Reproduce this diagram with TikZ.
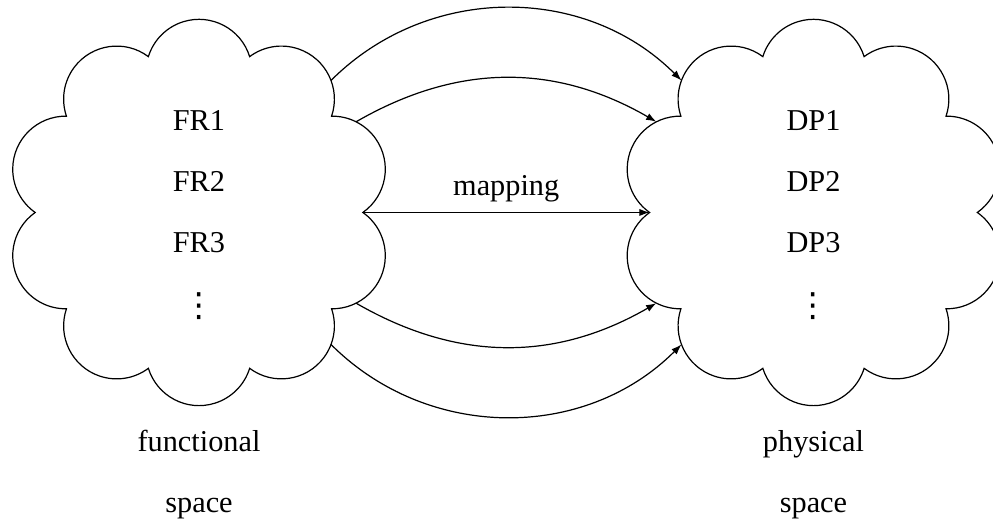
\documentclass[tikz,border=0pt]{standalone}
\usepackage{fontspec}
\setmainfont{Liberation Serif}
\newfontfamily\symbolfont{DejaVu Sans}
\usetikzlibrary{arrows.meta}
\begin{document}
\begin{tikzpicture}[
  font=\fontsize{10}{12}\selectfont,
  item/.style={anchor=base, inner sep=0pt},
  vdotsitem/.style={anchor=base, inner sep=0pt, font=\symbolfont\fontsize{11}{12}\selectfont},
  link/.style={-{Latex[length=3.4pt,width=2.4pt]}},
  % ten puffs of radius 17.5pt, centred on a circle of radius 46.248pt;
  % neighbouring puffs meet on a circle of radius 54.085pt
  pics/spacecloud/.style={code={
    \draw (0:54.085pt)
      \foreach \k in {0,...,9}{ arc[start angle={-54.75+36*\k}, delta angle=145.5, radius=17.5pt] }
      -- cycle;
    \coordinate (-c) at (0,0);
    % points on the outline where the arrows start or end
    \foreach \a/\d in {0/54.085, 30/59.86, 45/61.61, 135/61.61, 150/59.86,
                       180/54.085, 210/59.86, 225/61.61, 315/61.61, 330/59.86}
      \coordinate (-b\a) at (\a:\d pt);
  }},
]
\useasboundingbox (-65.68pt,-103.14pt) rectangle (262.05pt,70.13pt);

% the two spaces
\pic (fs) at (0pt,0pt) {spacecloud};
\pic (ps) at (202.8pt,0pt) {spacecloud};

% functional requirements
\node[item] (fr1) at ([yshift=27.2pt]fs-c) {FR1};
\node[item] (fr2) at ([yshift=7.0pt]fs-c) {FR2};
\node[item] (fr3) at ([yshift=-13.2pt]fs-c) {FR3};
\node[vdotsitem] (frn) at ([yshift=-34.4pt]fs-c) {⋮};

% design parameters
\node[item] (dp1) at ([yshift=27.2pt]ps-c) {DP1};
\node[item] (dp2) at ([yshift=7.0pt]ps-c) {DP2};
\node[item] (dp3) at ([yshift=-13.2pt]ps-c) {DP3};
\node[vdotsitem] (dpn) at ([yshift=-34.4pt]ps-c) {⋮};

% mapping arrows
\draw[link] (fs-b45) to[bend left=45] (ps-b135);
\draw[link] (fs-b30) to[bend left=30] (ps-b150);
\draw[link] (fs-b0) -- node[above] (map) {mapping} (ps-b180);
\draw[link] (fs-b330) to[bend right=30] (ps-b210);
\draw[link] (fs-b315) to[bend right=45] (ps-b225);

% captions
\node[item] (fcap1) at ([yshift=-78.8pt]fs-c) {functional};
\node[item] (fcap2) at ([yshift=-98.9pt]fs-c) {space};
\node[item] (pcap1) at ([yshift=-78.8pt]ps-c) {physical};
\node[item] (pcap2) at ([yshift=-98.9pt]ps-c) {space};
\end{tikzpicture}
\end{document}
